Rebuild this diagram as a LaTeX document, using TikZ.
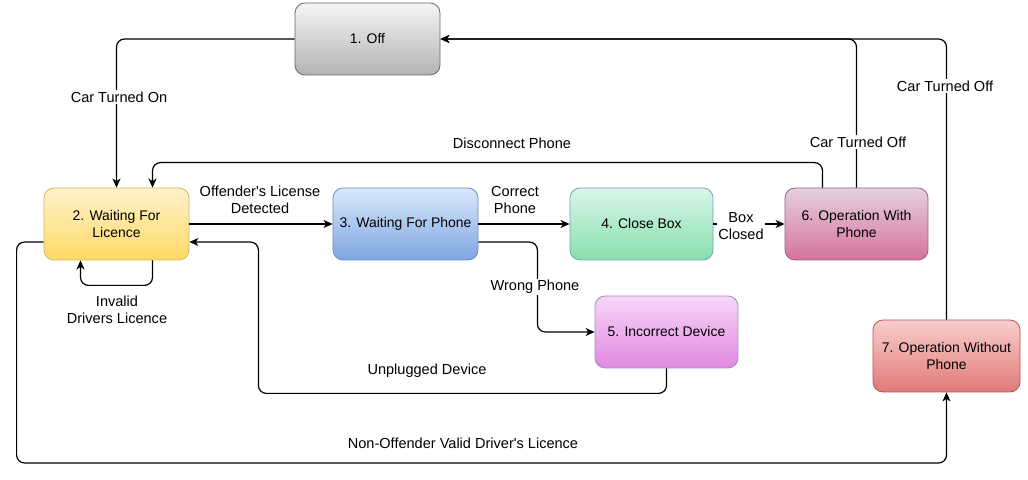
\documentclass[tikz,border=0pt]{standalone}
\usepackage{fontspec}
\setmainfont{Liberation Sans}
\usetikzlibrary{arrows.meta}
\definecolor{offtop}{HTML}{F5F5F5}
\definecolor{offbot}{HTML}{B3B3B3}
\definecolor{offline}{HTML}{666666}
\definecolor{yeltop}{HTML}{FFF2CC}
\definecolor{yelbot}{HTML}{FFD966}
\definecolor{yelline}{HTML}{D6B656}
\definecolor{blutop}{HTML}{DAE8FC}
\definecolor{blubot}{HTML}{7EA6E0}
\definecolor{bluline}{HTML}{6C8EBF}
\definecolor{grntop}{HTML}{D8F7EA}
\definecolor{grnbot}{HTML}{88DEAA}
\definecolor{grnline}{HTML}{7B9FC0}
\definecolor{vlttop}{HTML}{F8D6F8}
\definecolor{vltbot}{HTML}{E088E0}
\definecolor{vltline}{HTML}{9C8FC8}
\definecolor{pnktop}{HTML}{E6D0DE}
\definecolor{pnkbot}{HTML}{D5739D}
\definecolor{pnkline}{HTML}{996185}
\definecolor{redtop}{HTML}{F8CECC}
\definecolor{redbot}{HTML}{E07A78}
\definecolor{redline}{HTML}{B85450}
\tikzset{
  state/.style={rounded corners=10bp,minimum width=145bp,minimum height=72bp,
    inner sep=2bp,align=center,line width=0.8bp,font=\fontsize{14}{17}\selectfont},
  trans/.style={->,line width=1.2bp,rounded corners=8bp},
  lbl/.style={align=center,inner sep=1.5bp},
  onlbl/.style={lbl,fill=white}
}
\begin{document}
\begin{tikzpicture}[>={Stealth[length=9bp,width=8bp,inset=2.5bp]},line join=round,
  font=\fontsize{14.6}{17}\selectfont]
  \useasboundingbox (0bp,0bp) rectangle (1028bp,480bp);
%%
  % Node: 1. Off
  \node [state,top color=offtop,bottom color=offbot,draw=offline] (off) at (367.5bp,441bp) {1. Off};
  % Node: 2. Waiting For Licence
  \node [state,top color=yeltop,bottom color=yelbot,draw=yelline] (wlic) at (116.5bp,256bp) {2. Waiting For\\Licence};
  % Node: 3. Waiting For Phone
  \node [state,top color=blutop,bottom color=blubot,draw=bluline] (wphone) at (405.5bp,256bp) {3. Waiting For Phone};
  % Node: 4. Close Box
  \node [state,minimum width=143bp,top color=grntop,bottom color=grnbot,draw=grnline] (close) at (641.5bp,256bp) {4. Close Box};
  % Node: 5. Incorrect Device
  \node [state,minimum width=143bp,top color=vlttop,bottom color=vltbot,draw=vltline] (incorr) at (666.5bp,148bp) {5. Incorrect Device};
  % Node: 6. Operation With Phone
  \node [state,minimum width=143bp,top color=pnktop,bottom color=pnkbot,draw=pnkline] (withph) at (856.5bp,256bp) {6. Operation With\\Phone};
  % Node: 7. Operation Without Phone
  \node [state,minimum width=147bp,top color=redtop,bottom color=redbot,draw=redline] (without) at (946.5bp,124bp) {7. Operation Without\\Phone};
%%
  % Edge: 1. Off -> 2. Waiting For Licence
  \draw [trans] (off.west) -| (wlic.north);
  \node [onlbl] (lon) at (119bp,383bp) {Car Turned On};
  % Edge: 6. Operation With Phone -> 2. Waiting For Licence
  \draw [trans] ([xshift=-34bp]withph.north) -- ++(0,25bp) -| ([xshift=36bp]wlic.north);
  \node [lbl] (ldisc) at (512bp,337bp) {Disconnect Phone};
  % Edge: 6. Operation With Phone -> 1. Off
  \draw [trans] (withph.north) |- (off.east);
  \node [onlbl] (loff1) at (858bp,338bp) {Car Turned Off};
  % Edge: 7. Operation Without Phone -> 1. Off
  \draw [trans] (without.north) |- (off.east);
  \node [onlbl] (loff2) at (945bp,394bp) {Car Turned Off};
  % Edge: 2. Waiting For Licence -> 3. Waiting For Phone
  \draw [trans] (wlic.east) -- (wphone.west);
  \node [lbl] (loffend) at (260bp,280bp) {Offender\textquotesingle s License\\Detected};
  % Edge: 2. Waiting For Licence -> 2. Waiting For Licence
  \draw [trans] ([xshift=36bp]wlic.south) -- ++(0,-25bp) -| ([xshift=-36bp]wlic.south);
  \node [lbl] (linv) at (117bp,170bp) {Invalid\\Drivers Licence};
  % Edge: 2. Waiting For Licence -> 7. Operation Without Phone
  \draw [trans] ([yshift=-18bp]wlic.west) -- ++(-27bp,0) -- ++(0,-221bp) -| (without.south);
  \node [lbl] (lnon) at (463bp,37bp) {Non-Offender Valid Driver\textquotesingle s Licence};
  % Edge: 3. Waiting For Phone -> 4. Close Box
  \draw [trans] (wphone.east) -- (close.west);
  \node [lbl] (lcorr) at (515bp,280bp) {Correct\\Phone};
  % Edge: 3. Waiting For Phone -> 5. Incorrect Device
  \draw [trans] ([yshift=-18bp]wphone.east) -- ++(59bp,0) |- (incorr.west);
  \node [onlbl] (lwrong) at (535bp,193bp) {Wrong Phone};
  % Edge: 5. Incorrect Device -> 2. Waiting For Licence
  \draw [trans] (incorr.south) -- ++(0,-25bp) -| ([xshift=69bp,yshift=-18bp]wlic.east) -- ([yshift=-18bp]wlic.east);
  \node [lbl] (lunpl) at (427bp,109bp) {Unplugged Device};
  % Edge: 4. Close Box -> 6. Operation With Phone
  \draw [trans] (close.east) -- (withph.west);
  \node [onlbl] (lbox) at (741bp,254bp) {Box\\Closed};
%
\end{tikzpicture}
\end{document}
